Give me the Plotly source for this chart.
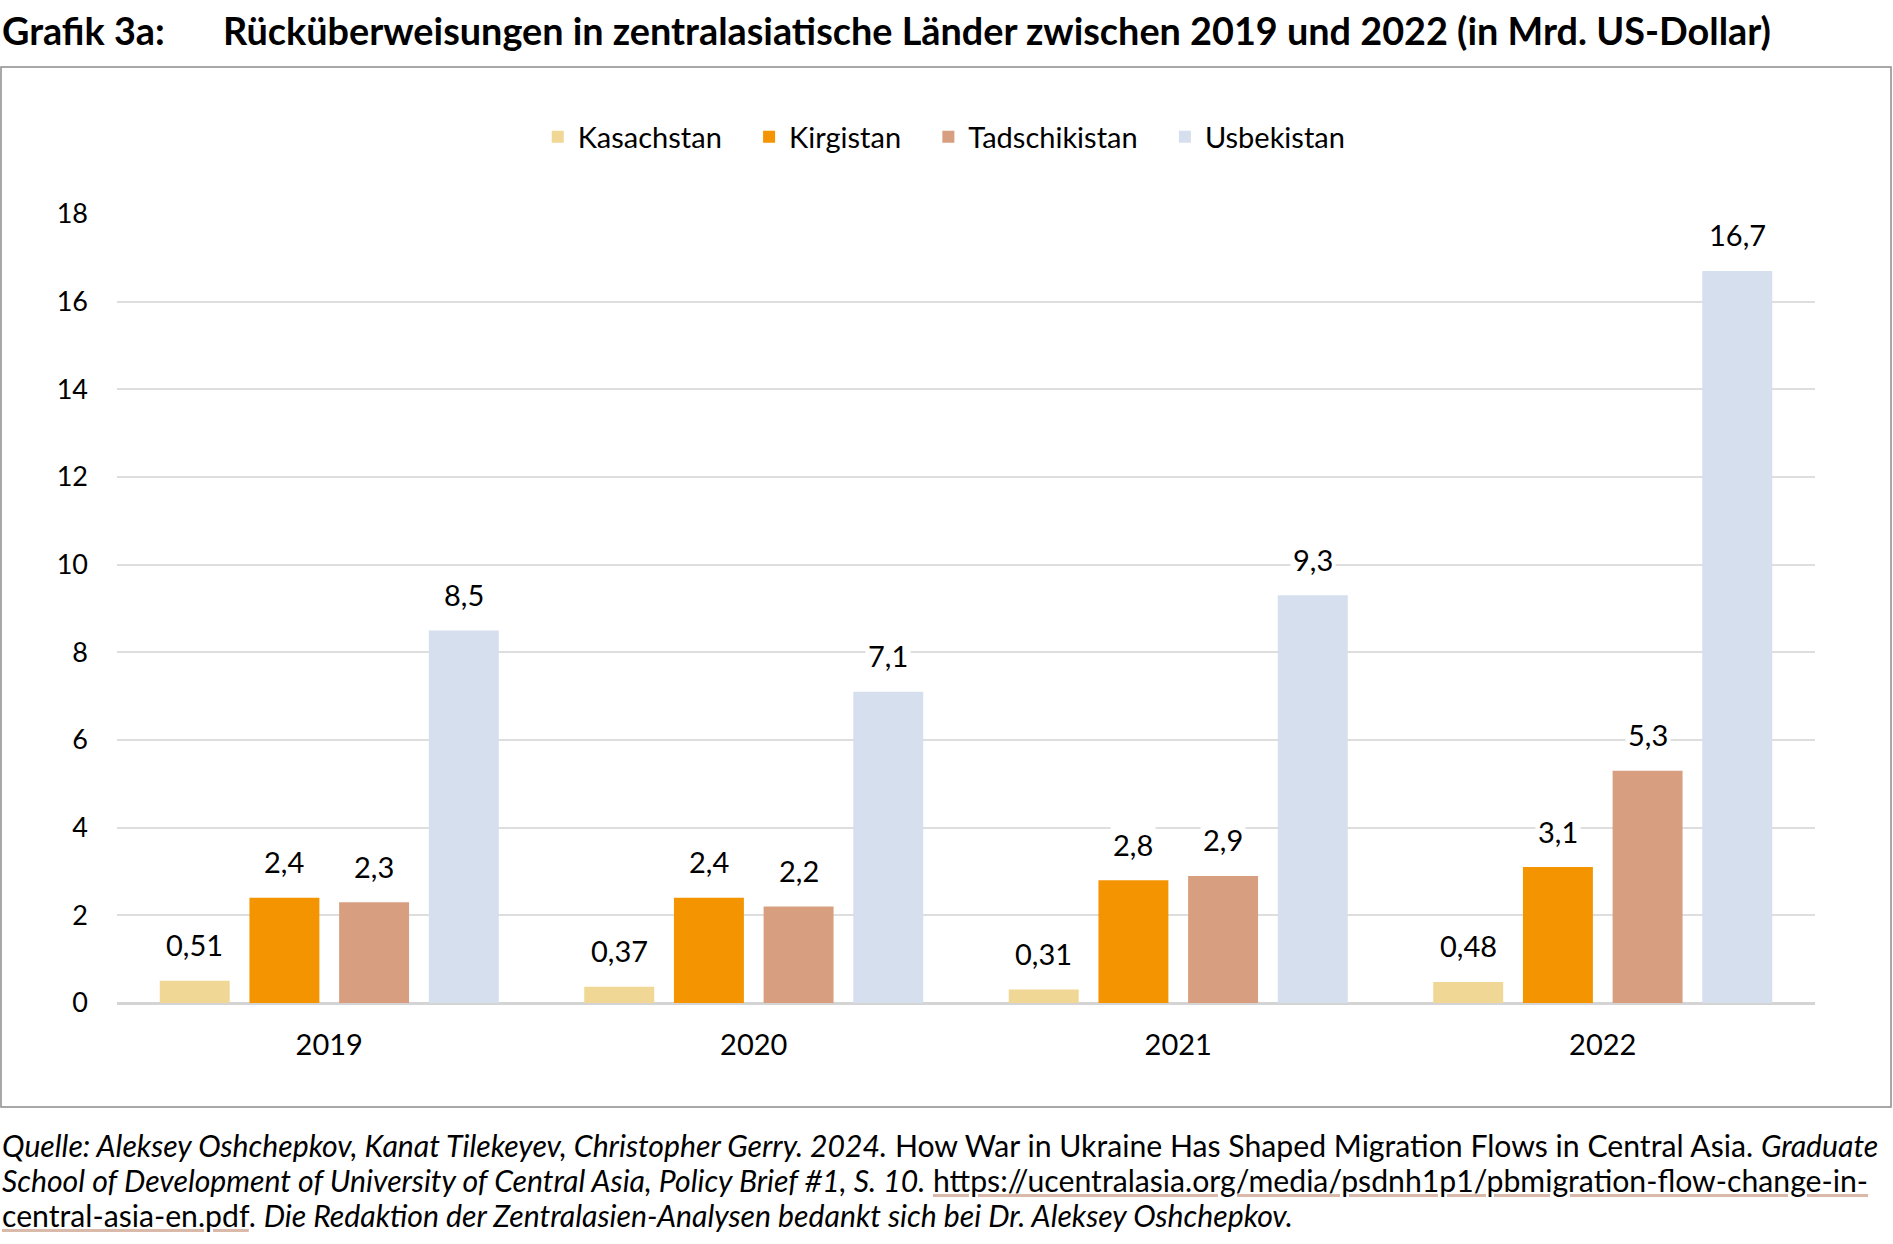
import plotly.graph_objects as go

years = ["2019", "2020", "2021", "2022"]
countries = ["Kasachstan", "Kirgistan", "Tadschikistan", "Usbekistan"]
kasachstan = [0.51, 0.37, 0.31, 0.48]
kirgistan = [2.4, 2.4, 2.8, 3.1]
tadschikistan = [2.3, 2.2, 2.9, 5.3]
usbekistan = [8.5, 7.1, 9.3, 16.7]
labels = {
    "Kasachstan": ["0,51", "0,37", "0,31", "0,48"],
    "Kirgistan": ["2,4", "2,4", "2,8", "3,1"],
    "Tadschikistan": ["2,3", "2,2", "2,9", "5,3"],
    "Usbekistan": ["8,5", "7,1", "9,3", "16,7"],
}
yticks = [0, 2, 4, 6, 8, 10, 12, 14, 16, 18]
colors = ["#F0D795", "#F39400", "#D79F80", "#D6DFEE"]

series = [kasachstan, kirgistan, tadschikistan, usbekistan]

W, H = 1893, 1244
ML, MR, MT, MB = 117, 78, 214, 241
PW = W - ML - MR
PH = H - MT - MB


def px(x):
    return (x - ML) / PW


def py(y):
    return (H - MB - y) / PH


BARGAP = 0.155
GROUPGAP = 0.22
FONT = "Lato"
PAD = "\u00a0" * 3

fig = go.Figure()
for name, vals, col in zip(countries, series, colors):
    fig.add_trace(go.Bar(name=name + PAD, x=years, y=vals, marker=dict(color=col, line=dict(width=0))))

annotations = []
slot = (1 - BARGAP) / len(countries)
for k, (name, vals) in enumerate(zip(countries, series)):
    off = -(1 - BARGAP) / 2 + (k + 0.5) * slot
    for i, v in enumerate(vals):
        annotations.append(dict(
            x=i + off, y=v, xref="x", yref="y", text=labels[name][i], showarrow=False,
            yanchor="middle", yshift=36, bgcolor="white", borderpad=2,
            font=dict(family=FONT, size=29, color="#000000"),
        ))

# Title
annotations.append(dict(x=px(0), y=py(30), xref="paper", yref="paper", xanchor="left", yanchor="middle",
                        text="<b>Grafik 3a:</b>", showarrow=False,
                        font=dict(family=FONT, size=37.8, color="#000000")))
annotations.append(dict(x=px(221), y=py(30), xref="paper", yref="paper", xanchor="left", yanchor="middle",
                        text="<b>Rücküberweisungen in zentralasiatische Länder zwischen 2019 und 2022 (in Mrd. US-Dollar)</b>",
                        showarrow=False, font=dict(family=FONT, size=37.8, color="#000000")))

U0 = "<span style='fill:#D9B9AA;text-decoration:underline'><span style='fill:#000000'>"
U1 = "</span></span>"
footer = [
    "<i>Quelle: Aleksey Oshchepkov, Kanat Tilekeyev, Christopher Gerry. 2024.</i> How War in Ukraine Has Shaped Migration Flows in Central Asia. <i>Graduate</i>",
    "<i>School of Development of University of Central Asia, Policy Brief #1, S. 10.</i> " + U0 + "https://ucentralasia.org/media/psdnh1p1/pbmigration-flow-change-in-" + U1,
    U0 + "central-asia-en.pdf" + U1 + ". <i>Die Redaktion der Zentralasien-Analysen bedankt sich bei Dr. Aleksey Oshchepkov.</i>",
]
for j, line in enumerate(footer):
    annotations.append(dict(x=px(0), y=py(1145 + 35 * j), xref="paper", yref="paper", xanchor="left",
                            yanchor="middle", text=line, showarrow=False,
                            font=dict(family=FONT, size=30.2, color="#000000")))

fig.update_layout(
    width=W, height=H,
    margin=dict(l=ML, r=MR, t=MT, b=MB, pad=0),
    paper_bgcolor="white", plot_bgcolor="white",
    barmode="group", bargap=BARGAP, bargroupgap=GROUPGAP,
    font=dict(family=FONT, size=29, color="#000000"),
    showlegend=True,
    legend=dict(orientation="h", x=px(457 * 1.2073 - 14), y=py(137), xanchor="left", yanchor="middle",
                font=dict(family=FONT, size=29, color="#000000"), itemwidth=30,
                traceorder="normal", bgcolor="rgba(0,0,0,0)"),
    xaxis=dict(showgrid=False, showline=False, ticks="", ticklabelstandoff=22,
               tickfont=dict(family=FONT, size=29, color="#000000")),
    yaxis=dict(range=[0, 18], tickvals=yticks, ticktext=[str(t) for t in yticks],
               showgrid=True, gridcolor="#DEDEDE", gridwidth=1.5,
               zeroline=True, zerolinecolor="#D4D4D4", zerolinewidth=3,
               showline=False, ticks="", ticklabelstandoff=28,
               tickfont=dict(family=FONT, size=27, color="#000000")),
    annotations=annotations,
    shapes=[dict(type="rect", xref="paper", yref="paper", x0=px(1), x1=px(1891), y0=py(1107), y1=py(67),
                 line=dict(color="#8C8C8C", width=1.5), fillcolor="rgba(0,0,0,0)", layer="below")],
)

fig.write_html("out.html", config={"displayModeBar": False},
               post_script="document.body.style.margin='0';document.body.style.overflow='hidden';")
